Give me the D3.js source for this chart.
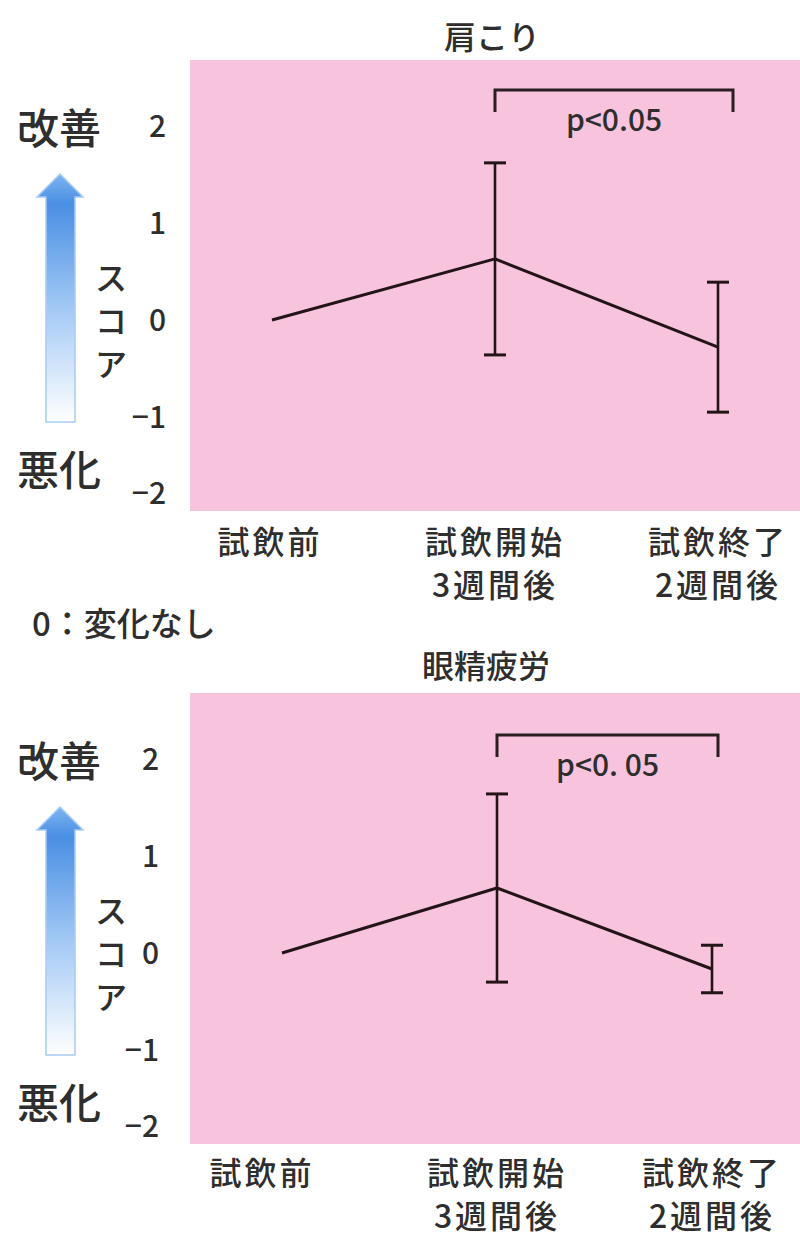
<!DOCTYPE html>
<html>
<head>
<meta charset="utf-8">
<script src="https://cdn.jsdelivr.net/npm/d3@7"></script>
<style>
  html, body { margin: 0; padding: 0; background: #fff; }
  svg text { font-family: "Noto Sans CJK JP", "Noto Sans", sans-serif; fill: #2e2e2e; font-weight: 500; }
</style>
</head>
<body>
<svg id="chart" width="800" height="1233"></svg>
<script>
// Time points (each label may wrap onto two lines)
const categories = [["試飲前"], ["試飲開始", "3週間後"], ["試飲終了", "2週間後"]];
// Panel titles
const titles = ["肩こり", "眼精疲労"];
// Mean score change and error (±) per time point
const shoulderMean = [0, 0.63, -0.28];
const shoulderErr  = [0, 0.99, 0.67];
const eyeMean = [0, 0.67, -0.165];
const eyeErr  = [0, 0.97, 0.245];
// Y-axis tick values
const yTicks = [2, 1, 0, -1, -2];
// Significance labels between the 2nd and 3rd time points
const pLabels = ["p<0.05", "p<0. 05"];
// Side legend texts
const upLabel = "改善";
const downLabel = "悪化";
const scoreLabel = ["ス", "コ", "ア"];
const zeroNote = "0：変化なし";

const svg = d3.select("#chart");

// Vertical gradient for the score arrow
const defs = svg.append("defs");
const grad = defs.append("linearGradient")
  .attr("id", "arrowGrad").attr("x1", 0).attr("y1", 0).attr("x2", 0).attr("y2", 1);
grad.append("stop").attr("offset", "0%").attr("stop-color", "#7db4f0");
grad.append("stop").attr("offset", "12%").attr("stop-color", "#4a8fe3");
grad.append("stop").attr("offset", "55%").attr("stop-color", "#a4caf5");
grad.append("stop").attr("offset", "100%").attr("stop-color", "#ffffff");

const panels = [
  { title: titles[0], mean: shoulderMean, err: shoulderErr, p: pLabels[0],
    dy: 0, xRange: [272, 718], tickX: 166, titleX: 492, titleY: 49, bracketRight: 15,
    bracketTop: 90, catY: 554, firstCatShift: -2 },
  { title: titles[1], mean: eyeMean, err: eyeErr, p: pLabels[1],
    dy: 633, xRange: [282, 712], tickX: 159, titleX: 486, titleY: 45, bracketRight: 6,
    bracketTop: 102, catY: 552, firstCatShift: -20 }
];

panels.forEach(pn => {
  const g = svg.append("g").attr("transform", `translate(0,${pn.dy})`);

  const y = d3.scaleLinear().domain([-2, 2]).range([514, 126]);
  const x = d3.scalePoint().domain(d3.range(categories.length)).range(pn.xRange);

  // Plot background
  g.append("rect")
    .attr("x", 190).attr("y", 60)
    .attr("width", 610).attr("height", 451)
    .attr("fill", "#f7c3dd");

  // Title
  g.append("text")
    .attr("x", pn.titleX).attr("y", pn.titleY)
    .attr("text-anchor", "middle")
    .attr("font-size", 32)
    .text(pn.title);

  // Y axis labels (no line, no ticks)
  const axis = d3.axisLeft(y)
    .tickValues(yTicks)
    .tickSize(0)
    .tickPadding(0)
    .tickFormat(d => d < 0 ? "\u2212" + Math.abs(d) : String(d));
  const ag = g.append("g").attr("transform", `translate(${pn.tickX},0)`).call(axis);
  ag.select(".domain").remove();
  ag.selectAll("text")
    .attr("font-size", 30)
    .attr("fill", "#2e2e2e")
    .style("font-family", "'Noto Sans CJK JP', sans-serif")
    .style("font-weight", 500)
    .attr("dy", d => d === -2 ? "-0.35em" : "0.35em");

  // Mean line
  const line = d3.line()
    .x((d, i) => x(i))
    .y(d => y(d));
  g.append("path")
    .datum(pn.mean)
    .attr("d", line)
    .attr("fill", "none")
    .attr("stroke", "#231517")
    .attr("stroke-width", 3)
    .attr("stroke-linejoin", "round");

  // Error bars
  const eb = g.selectAll(".err")
    .data(pn.mean.map((m, i) => ({ i, m, e: pn.err[i] })).filter(d => d.e > 0))
    .join("g").attr("class", "err");
  const cap = 11;
  eb.append("line")
    .attr("x1", d => x(d.i)).attr("x2", d => x(d.i))
    .attr("y1", d => y(d.m + d.e)).attr("y2", d => y(d.m - d.e))
    .attr("stroke", "#231517").attr("stroke-width", 2.6);
  eb.append("line")
    .attr("x1", d => x(d.i) - cap).attr("x2", d => x(d.i) + cap)
    .attr("y1", d => y(d.m + d.e)).attr("y2", d => y(d.m + d.e))
    .attr("stroke", "#231517").attr("stroke-width", 3);
  eb.append("line")
    .attr("x1", d => x(d.i) - cap).attr("x2", d => x(d.i) + cap)
    .attr("y1", d => y(d.m - d.e)).attr("y2", d => y(d.m - d.e))
    .attr("stroke", "#231517").attr("stroke-width", 3);

  // Significance bracket
  const bx1 = x(1), bx2 = x(2) + pn.bracketRight;
  const bTop = pn.bracketTop, bEnd = bTop + 22;
  g.append("path")
    .attr("d", `M${bx1},${bEnd}V${bTop}H${bx2}V${bEnd}`)
    .attr("fill", "none")
    .attr("stroke", "#2b1e20")
    .attr("stroke-width", 3);
  g.append("text")
    .attr("x", (bx1 + bx2) / 2).attr("y", bTop + 41)
    .attr("text-anchor", "middle")
    .attr("font-size", 30)
    .text(pn.p);

  // Category labels
  const cl = g.selectAll(".cat")
    .data(categories)
    .join("text").attr("class", "cat")
    .attr("text-anchor", "middle")
    .attr("font-size", 32)
    .attr("letter-spacing", 3);
  cl.each(function (lines, i) {
    const t = d3.select(this);
    const cx = i === 0 ? x(i) + pn.firstCatShift : x(i);
    lines.forEach((s, k) => {
      t.append("tspan").attr("x", cx).attr("y", pn.catY + k * 43).text(s);
    });
  });

  // Legend: 改善 / arrow / スコア / 悪化
  g.append("text").attr("x", 17).attr("y", 144).attr("font-size", 42).text(upLabel);
  g.append("text").attr("x", 17).attr("y", 486).attr("font-size", 42).text(downLabel);

  const ax = 60, tipY = 174, headY = 197, bottomY = 422;
  g.append("path")
    .attr("d", `M${ax},${tipY}L${ax + 23},${headY}L${ax + 15},${headY}L${ax + 15},${bottomY}` +
               `L${ax - 14},${bottomY}L${ax - 14},${headY}L${ax - 23},${headY}Z`)
    .attr("fill", "url(#arrowGrad)")
    .attr("stroke", "#a6cbf4")
    .attr("stroke-width", 1.5)
    .attr("stroke-linejoin", "miter");

  scoreLabel.forEach((s, k) => {
    g.append("text")
      .attr("x", 111).attr("y", 290 + k * 43)
      .attr("text-anchor", "middle")
      .attr("font-size", 32)
      .text(s);
  });
});

// Note below the first panel
svg.append("text")
  .attr("x", 32).attr("y", 636)
  .attr("font-size", 33)
  .text(zeroNote);
</script>
</body>
</html>
